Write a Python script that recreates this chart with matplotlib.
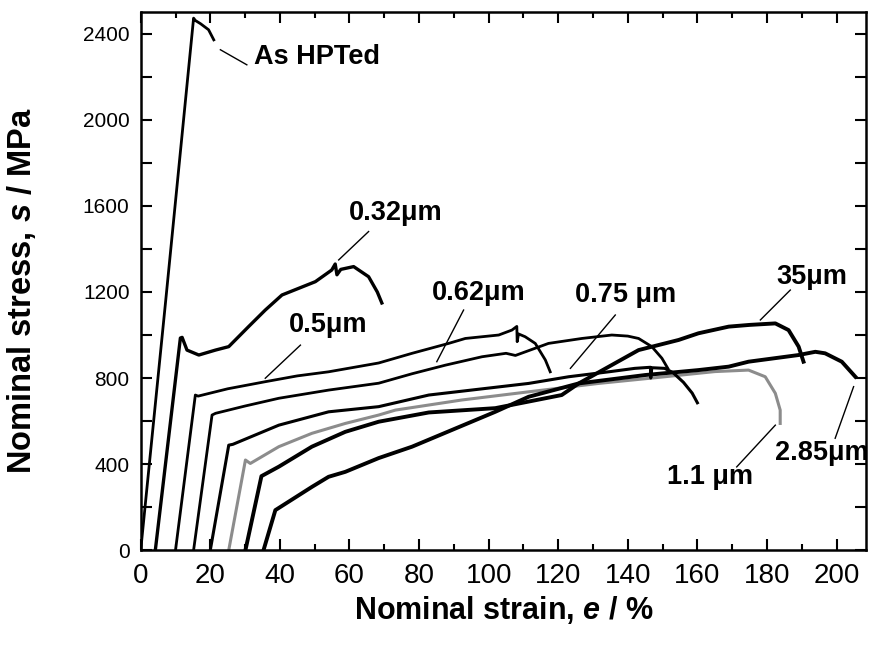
import matplotlib
matplotlib.use('Agg')
import matplotlib.pyplot as plt
from matplotlib.ticker import MultipleLocator
from matplotlib import font_manager

plt.rcParams['font.family'] = ['Liberation Sans', 'DejaVu Sans']
plt.rcParams['mathtext.fontset'] = 'custom'
plt.rcParams['mathtext.it'] = 'Liberation Sans:bold:italic'
plt.rcParams['mathtext.rm'] = 'Liberation Sans:bold'

# Curves: strain (%) and stress (MPa)
hpt_x = [0, 7.2, 15.2, 15.7, 17.2, 19.5, 21.0]
hpt_y = [0, 1163, 2473, 2462, 2447, 2419, 2372]

d032_x = [4.2, 11.4, 11.9, 13.3, 16.7, 21.5, 25.3, 31.0, 35.8, 40.6, 45.4, 50.2,
          54.9, 55.9, 56.4, 57.5, 61.2, 65.5, 68.0, 69.3]
d032_y = [0, 986, 989, 930, 907, 930, 946, 1039, 1116, 1186, 1217, 1248,
          1302, 1330, 1280, 1305, 1318, 1271, 1200, 1149]

d05_x = [10.0, 15.7, 16.5, 25, 35.8, 45, 54, 68.4, 78, 88.5, 93.3, 102.9,
         106.7, 108.1, 108.2, 108.6, 110.5, 113.4, 116.3, 117.7]
d05_y = [0, 721, 716, 750, 783, 810, 829, 870, 915, 961, 984, 1000,
         1023, 1040, 969, 1005, 992, 961, 884, 829]

d062_x = [15.2, 20.5, 21.5, 30, 39.7, 54, 68.4, 78, 87.6, 98.1, 105, 107.7,
          117.2, 126.8, 135.4, 140, 143.1, 146.9, 149.8, 151.5]
d062_y = [0, 628, 636, 670, 706, 744, 776, 820, 860, 899, 915, 905,
          961, 984, 1000, 995, 984, 946, 892, 845]

d075_x = [20.0, 25.3, 26.5, 39.7, 54, 68.4, 82.8, 111.5, 123, 135, 142, 146.5,
          146.6, 146.9, 150.6, 153, 156, 158.5, 160]
d075_y = [0, 488, 492, 581, 643, 667, 721, 775, 806, 830, 845, 850,
          800, 848, 845, 825, 780, 730, 685]

d11_x = [25.3, 30.1, 31.5, 39.7, 49.2, 58.8, 68.4, 73.2, 92.3, 111.5, 131.6,
         150, 165, 174.7, 179.5, 182.4, 183.8, 183.8]
d11_y = [0, 419, 403, 481, 543, 589, 628, 651, 698, 736, 775,
         805, 830, 837, 806, 729, 651, 589]

d285_x = [30.1, 34.7, 39.7, 49.2, 58.8, 68.4, 82.8, 101.9, 121, 125.9, 145,
          160.3, 169, 174.7, 189.1, 193.9, 196.7, 201.5, 205.4]
d285_y = [0, 344, 388, 481, 550, 597, 640, 660, 721, 775, 814,
          837, 853, 876, 907, 922, 915, 876, 806]

d35_x = [35.3, 38.7, 49.2, 54, 58.8, 68.4, 78, 101.9, 111.5, 125.9, 143.1,
         154.6, 160.3, 169, 175, 182.4, 186.2, 189.1, 190.5]
d35_y = [0, 186, 294, 341, 364, 428, 481, 643, 713, 775, 930,
         977, 1008, 1039, 1047, 1054, 1023, 946, 876]

# label text, text position, pointer start, pointer end
labels = ['As HPTed', '0.32\u03bcm', '0.5\u03bcm', '0.62\u03bcm', '0.75 \u03bcm',
          '35\u03bcm', '2.85\u03bcm', '1.1 \u03bcm']
label_xy = [(32.5, 2294), (59.8, 1567), (42.5, 1047), (83.6, 1195), (124.9, 1186),
            (182.8, 1271), (182.4, 450), (151.2, 341)]
ptr_from = [(22.9, 2326), (65.5, 1481), (45.9, 953), (92.8, 1116), (136.4, 1093),
            (186.7, 1209), (204.9, 760), (182.4, 581)]
ptr_to = [(30.5, 2256), (56.9, 1349), (35.8, 799), (85.1, 876), (123.5, 845),
          (178.1, 1070), (199.6, 520), (171.3, 387)]

names = {f.name for f in font_manager.fontManager.ttflist}
xtick_family = 'Liberation Sans Narrow' if 'Liberation Sans Narrow' in names else 'Liberation Sans'

fig = plt.figure(figsize=(8.74, 6.48), dpi=100)
ax = fig.add_axes([0.161, 0.151, 0.830, 0.830])

# gray curve first so black ones sit on top of it
ax.plot(d11_x, d11_y, color='#8c8c8c', lw=2.2)
for xs, ys, lw in [(hpt_x, hpt_y, 2.0), (d032_x, d032_y, 2.4), (d05_x, d05_y, 2.0),
                   (d062_x, d062_y, 2.0), (d075_x, d075_y, 2.2),
                   (d285_x, d285_y, 2.8), (d35_x, d35_y, 2.8)]:
    ax.plot(xs, ys, color='black', lw=lw, solid_joinstyle='round')

for txt, (tx, ty), p0, p1 in zip(labels, label_xy, ptr_from, ptr_to):
    ax.text(tx, ty, txt, fontsize=19.5, fontweight='bold', ha='left', va='center')
    ax.plot([p0[0], p1[0]], [p0[1], p1[1]], color='black', lw=1.0)

ax.set_xlim(0, 208.5)
ax.set_ylim(0, 2500)
ax.xaxis.set_major_locator(MultipleLocator(20))
ax.xaxis.set_minor_locator(MultipleLocator(10))
ax.yaxis.set_major_locator(MultipleLocator(400))
ax.yaxis.set_minor_locator(MultipleLocator(200))
ax.tick_params(which='both', direction='in', top=True, right=True, width=1.5)
ax.tick_params(which='major', length=8)
ax.tick_params(axis='y', which='major', labelsize=15, pad=8)
ax.tick_params(axis='x', which='major', labelsize=20, pad=9)
ax.tick_params(axis='x', which='minor', length=4)
ax.tick_params(axis='y', which='minor', length=8)
for lab in ax.get_xticklabels():
    lab.set_family(xtick_family)
for s in ax.spines.values():
    s.set_linewidth(1.8)

ax.set_xlabel(r'Nominal strain, $e$ / %', fontsize=22, fontweight='bold')
ax.set_ylabel(r'Nominal stress, $s$ / MPa', fontsize=23.5, fontweight='bold')
ax.xaxis.set_label_coords(0.5, -0.082)
ax.yaxis.set_label_coords(-0.142, 0.483)

fig.savefig('out.png', dpi=100)
